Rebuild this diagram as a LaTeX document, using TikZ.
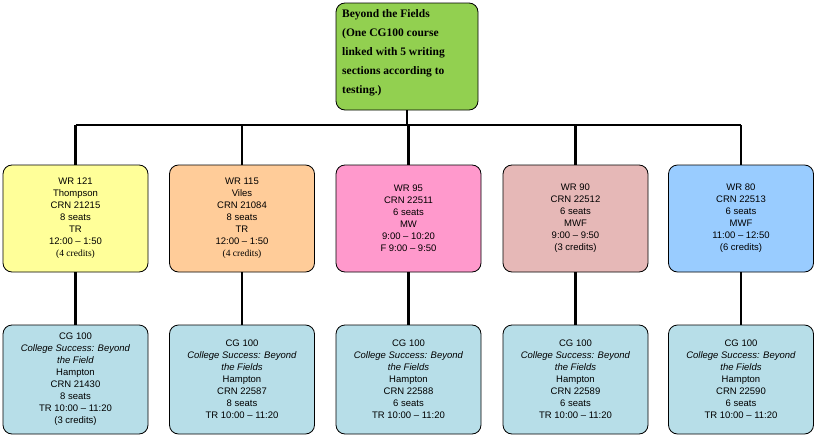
\documentclass[tikz,border=0pt]{standalone}
\usepackage{fontspec}
\setmainfont{Liberation Sans}
\newfontfamily\serifbf{Liberation Serif}
\definecolor{topgreen}{RGB}{146,208,80}
\definecolor{wryellow}{RGB}{255,255,153}
\definecolor{wrorange}{RGB}{255,204,153}
\definecolor{wrpink}{RGB}{255,153,204}
\definecolor{wrrose}{RGB}{230,184,183}
\definecolor{wrblue}{RGB}{153,204,255}
\definecolor{cgteal}{RGB}{183,222,232}
\begin{document}
\begin{tikzpicture}[x=1pt, y=-1pt,
box/.style={draw=black, thick, rounded corners=9pt, minimum width=145pt, minimum height=107pt,
  align=center, font=\fontsize{9.5}{12}\selectfont, inner sep=1pt},
bus/.style={line width=2.5pt}]
\useasboundingbox (0,0) rectangle (815,439);

% top
\node[box, fill=topgreen, minimum width=142pt] (top) at (407,56.5) {};
\node[anchor=north west, align=left, inner sep=0pt, font=\serifbf\bfseries\fontsize{11.5}{19}\selectfont]
  (toptext) at (342,9) {Beyond the Fields\\(One CG100 course\\linked with 5 writing\\sections according to\\testing.)};

% writing sections
\node[box, fill=wryellow] (wr1) at (75.5,218.5) {WR 121\\Thompson\\CRN 21215\\8 seats\\TR\\12:00 -- 1:50\\{\serifbf (4 credits)}};
\node[box, fill=wrorange] (wr2) at (242,218.5) {WR 115\\Viles\\CRN 21084\\8 seats\\TR\\12:00 -- 1:50\\{\serifbf (4 credits)}};
\node[box, fill=wrpink] (wr3) at (408.5,218.5) {WR 95\\CRN 22511\\6 seats\\MW\\9:00 -- 10:20\\F 9:00 -- 9:50};
\node[box, fill=wrrose] (wr4) at (575.5,218.5) {WR 90\\CRN 22512\\6 seats\\MWF\\9:00 -- 9:50\\(3 credits)};
\node[box, fill=wrblue] (wr5) at (741,218.5) {WR 80\\CRN 22513\\6 seats\\MWF\\11:00 -- 12:50\\(6 credits)};

% CG 100 sections
\node[box, fill=cgteal, minimum height=109pt] (cg1) at (75.5,379.5) {CG 100\\\textit{College Success: Beyond}\\\textit{the Field}\\Hampton\\CRN 21430\\8 seats\\TR 10:00 -- 11:20\\(3 credits)};
\node[box, fill=cgteal, minimum height=109pt] (cg2) at (242,379.5) {CG 100\\\textit{College Success: Beyond}\\\textit{the Fields}\\Hampton\\CRN 22587\\8 seats\\TR 10:00 -- 11:20};
\node[box, fill=cgteal, minimum height=109pt] (cg3) at (408.5,379.5) {CG 100\\\textit{College Success: Beyond}\\\textit{the Fields}\\Hampton\\CRN 22588\\6 seats\\TR 10:00 -- 11:20};
\node[box, fill=cgteal, minimum height=109pt] (cg4) at (575.5,379.5) {CG 100\\\textit{College Success: Beyond}\\\textit{the Fields}\\Hampton\\CRN 22589\\6 seats\\TR 10:00 -- 11:20};
\node[box, fill=cgteal, minimum height=109pt] (cg5) at (741,379.5) {CG 100\\\textit{College Success: Beyond}\\\textit{the Fields}\\Hampton\\CRN 22590\\6 seats\\TR 10:00 -- 11:20};

% connectors
\coordinate (busl) at (75.5,125);
\coordinate (busr) at (741,125);
\draw[bus] (busl) -- (busr);
\draw[bus] (top.south) -- (top.south |- busl);
\foreach \i in {1,...,5}{
  \draw[bus] (wr\i.north |- busl) -- (wr\i.north);
  \draw[bus] (wr\i.south) -- (cg\i.north);
}
\end{tikzpicture}
\end{document}
